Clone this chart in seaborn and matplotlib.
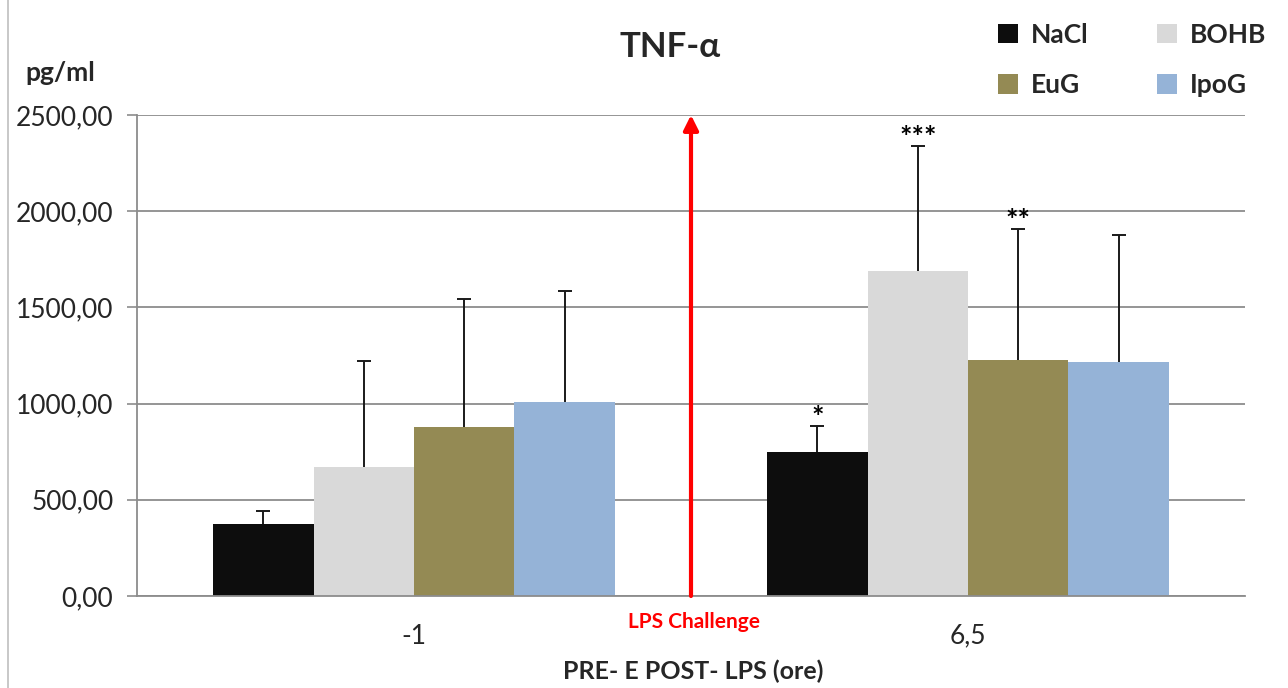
import numpy as np
import pandas as pd
import matplotlib
matplotlib.use("Agg")
import matplotlib.pyplot as plt
from matplotlib.patches import Patch
from matplotlib.lines import Line2D
import seaborn as sns

# Time points (hours, pre/post LPS) and treatment groups
time_points = ["-1", "6,5"]
groups = ["NaCl", "BOHB", "EuG", "IpoG"]
colors = ["#0d0d0d", "#d9d9d9", "#948a54", "#95b3d7"]

# Mean TNF-alpha (pg/ml) per group at each time point
nacl = [374, 747]
bohb = [669, 1689]
eug = [878, 1227]
ipog = [1010, 1216]

# Upper error (SD) per group at each time point
nacl_err = [69, 137]
bohb_err = [551, 650]
eug_err = [666, 681]
ipog_err = [577, 660]

# Significance marks at 6,5 h
stars = {"NaCl": "*", "BOHB": "***", "EuG": "**", "IpoG": ""}

means = {"NaCl": nacl, "BOHB": bohb, "EuG": eug, "IpoG": ipog}
errs = {"NaCl": nacl_err, "BOHB": bohb_err, "EuG": eug_err, "IpoG": ipog_err}

df = pd.DataFrame(
    [(t, g, means[g][i], errs[g][i]) for g in groups for i, t in enumerate(time_points)],
    columns=["time", "group", "value", "err"],
)

sns.set_style("white")
plt.rcParams["font.family"] = ["Lato", "DejaVu Sans"]

fig = plt.figure(figsize=(12.88, 6.88), dpi=100)
ax = fig.add_axes([137 / 1288, 1 - 596 / 688, (1245 - 137) / 1288, (596 - 115) / 688])

sns.barplot(
    data=df, x="time", y="value", hue="group", order=time_points, hue_order=groups,
    palette=colors, saturation=1, width=0.725, gap=0, linewidth=0, errorbar=None,
    legend=False, ax=ax, zorder=2,
)

# Upward-only error bars and significance stars on top of each bar
bars = ax.patches[: len(groups) * len(time_points)]
for gi, g in enumerate(groups):
    for ti in range(len(time_points)):
        bar = bars[gi * len(time_points) + ti]
        xc = bar.get_x() + bar.get_width() / 2
        y = means[g][ti]
        e = errs[g][ti]
        _, caps, _ = ax.errorbar(xc, y, yerr=[[0], [e]], fmt="none", ecolor="#1a1a1a",
                                 elinewidth=1.4, capsize=5, capthick=1.4, zorder=3)
        caps[0].set_visible(False)
        if ti == 1 and stars[g]:
            ax.text(xc, y + e - 25, stars[g], ha="center", va="bottom",
                    fontsize=21, fontweight="bold", color="black")

ax.set_xlim(-0.5, 1.5)
ax.set_ylim(0, 2500)
ax.set_yticks(np.arange(0, 2501, 500))
ax.set_yticklabels([f"{v:.2f}".replace(".", ",") for v in np.arange(0, 2501, 500)])
ax.yaxis.grid(True, color="#8c8c8c", linewidth=1.3, zorder=0)
ax.set_axisbelow(True)

# Category labels without ticks; tick marks sit on the category boundaries
ax.set_xticks([0, 1])
ax.set_xticklabels(time_points)
ax.set_xticks([-0.5, 0.5, 1.5], minor=True)
ax.tick_params(axis="x", which="major", length=0, pad=20, labelsize=19)
ax.tick_params(axis="x", which="minor", length=7, width=1.2, color="#8c8c8c", direction="out")
ax.tick_params(axis="y", length=7, width=1.2, color="#8c8c8c", direction="out",
               pad=10, labelsize=19, left=True)

for side in ["top", "right"]:
    ax.spines[side].set_visible(False)
for side in ["left", "bottom"]:
    ax.spines[side].set_color("#8c8c8c")
    ax.spines[side].set_linewidth(1.3)

ax.set_xlabel("")
ax.set_ylabel("")
fig.text(693 / 1288, 1 - 671 / 688, "PRE- E POST- LPS (ore)", ha="center", va="center",
         fontsize=18, fontweight="bold")

# LPS challenge marker between the two time points
ax.annotate("", xy=(0.5, 2500), xytext=(0.5, 0),
            arrowprops=dict(arrowstyle="-|>", color="red", lw=3, mutation_scale=22,
                            shrinkA=0, shrinkB=0), zorder=4, annotation_clip=False)
ax.text(0.505, -0.055, "LPS Challenge", transform=ax.get_xaxis_transform(),
        ha="center", va="center", color="red", fontsize=15, fontweight="bold")

fig.text(670 / 1288, 1 - 47 / 688, "TNF-α", ha="center", va="center",
         fontsize=25, fontweight="bold")
fig.text(60 / 1288, 1 - 73 / 688, "pg/ml", ha="center", va="center",
         fontsize=19, fontweight="bold")

# Legend laid out row-wise: NaCl, BOHB / EuG, IpoG
order = [0, 2, 1, 3]
handles = [Patch(facecolor=colors[i], edgecolor="none") for i in order]
labels = [groups[i] for i in order]
fig.legend(handles, labels, loc="center", bbox_to_anchor=(1132 / 1288, 1 - 60 / 688),
           ncol=2, frameon=False, prop=dict(size=19, weight="bold"),
           handlelength=0.75, handleheight=0.75, handletextpad=0.5,
           columnspacing=2.6, labelspacing=1.0)

# Chart area border on the left edge
fig.add_artist(Line2D([8 / 1288, 8 / 1288], [0, 1], transform=fig.transFigure,
                      color="#bfbfbf", linewidth=1.2))

fig.savefig("out.png", dpi=100)
